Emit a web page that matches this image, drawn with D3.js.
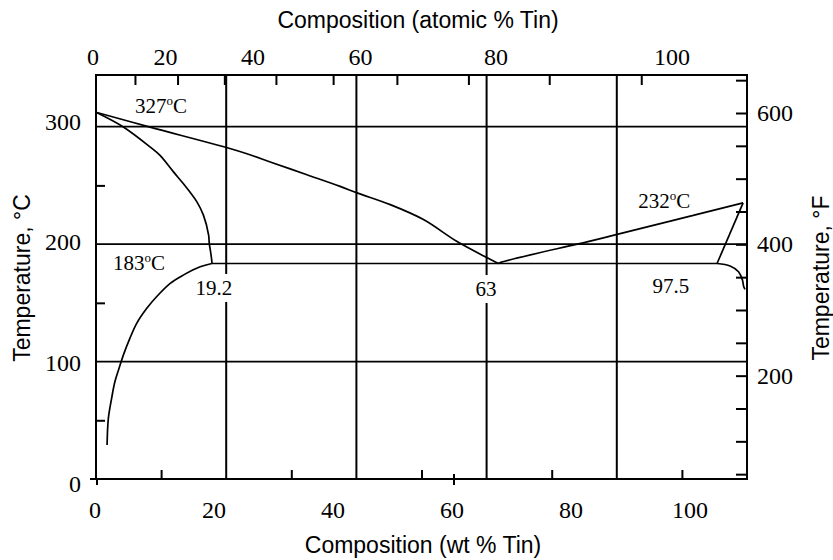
<!DOCTYPE html>
<html>
<head>
<meta charset="utf-8">
<script src="https://cdn.jsdelivr.net/npm/d3@7"></script>
<style>
body { margin: 0; background: #fff; }
</style>
</head>
<body>
<div id="container"></div>
<script>
// tick values
var wtLabels = [0, 20, 40, 60, 80, 100];
var wtGrid = [20, 40, 60, 80];
var wtMinor = [10, 30, 50, 70, 90];
var atLabels = [0, 20, 40, 60, 80, 100];
var atMinor = [10, 20, 30, 40, 50, 60, 70, 80, 90];
var tempLabels = [0, 100, 200, 300];
var tempGrid = [100, 200, 300];
var tempMinor = [50, 150, 250];
var fahrLabels = [200, 400, 600];
var fahrMinor = [50, 100, 150, 200, 250, 300, 350, 400, 450, 500, 550, 600, 650];

// phase boundaries as drawn, [wt % Sn, deg C]
var liquidusLead = [[0, 312.3], [8.3, 299.6], [22.1, 278.9], [27.2, 269.1], [32.4, 259.1], [37.5, 249.2],
    [40.1, 243.6], [45.2, 233.6], [50.3, 220.9], [55.4, 202.4], [59.8, 189.2], [61.8, 183.5]];
var liquidusTin = [[61.8, 183.5], [62.3, 184.7], [75.9, 202.6], [80.2, 208.5], [99.4, 235.1]];
var solidusLead = [[0, 312.3], [4.2, 299.8], [8.3, 282.8], [9.8, 275.7], [11.9, 261.5], [13.4, 251.6],
    [14.4, 244.5], [15.5, 236.0], [16.5, 224.7], [17.3, 207.7], [17.4, 200.6], [17.6, 193.5],
    [17.8, 185.0], [17.8, 183.5]];
var solvusLead = [[17.8, 183.5], [16.0, 180.7], [13.4, 173.6], [11.4, 166.6], [9.3, 155.2], [7.8, 145.3],
    [6.25, 132.5], [5.2, 119.7], [4.2, 105.5], [3.7, 97.0], [2.9, 82.8], [2.4, 68.7], [1.9, 51.7], [1.7, 28.9]];
var eutectic = [[17.8, 183.5], [95.4, 183.5]];
var solidusTin = [[99.4, 235.1], [95.4, 183.5]];
var solvusTin = [[95.4, 183.5], [97.4, 181.4], [98.7, 176.5], [99.3, 169.4], [99.5, 163.7], [99.7, 161.5]];

// annotations: text, superscript degree?, wt %, deg C, anchor
var notes = [
    {text: "327", deg: true, wt: 6.0, t: 311.6, anchor: "start"},
    {text: "183", deg: true, wt: 2.6, t: 178.0, anchor: "start"},
    {text: "232", deg: true, wt: 83.3, t: 230.8, anchor: "start"},
    {text: "19.2", deg: false, wt: 18.1, t: 156.7, anchor: "middle"},
    {text: "63", deg: false, wt: 59.9, t: 155.8, anchor: "middle"},
    {text: "97.5", deg: false, wt: 88.3, t: 158.4, anchor: "middle"}
];

var M_SN = 118.71, M_PB = 207.2;
function wtFromAt(a) {
    return 100 * a * M_SN / (a * M_SN + (100 - a) * M_PB);
}

var W = 833, H = 560;
var box = {left: 96, right: 747, top: 75, bottom: 479};
var SERIF = "'Liberation Serif', 'Times New Roman', serif";
var SANS = "'Liberation Sans', Arial, sans-serif";

var x = d3.scaleLinear().domain([0, 100]).range([box.left, box.right]);
var y = d3.scaleLinear().domain([0, 344]).range([box.bottom, box.top]);
// the printed tick labels do not sit on the grid, they have their own spacing
var xLab = d3.scaleLinear().domain([0, 100]).range([95, 690]);
var xTopLab = d3.scaleLinear().domain([0, 100]).range([93, 672]);
var yLab = d3.scaleLinear().domain([0, 300]).range([483.5, 121.5]);
var yF = d3.scaleLinear().domain([0, 600]).range([507, 113]);

var svg = d3.select("#container")
    .append("svg")
    .attr("width", W)
    .attr("height", H)
    .style("display", "block");

svg.append("rect").attr("width", W).attr("height", H).attr("fill", "#fff");

// grid
svg.selectAll("vgrid")
    .data(wtGrid)
    .enter()
    .append("line")
        .attr("x1", function(d) { return x(d); })
        .attr("x2", function(d) { return x(d); })
        .attr("y1", box.top)
        .attr("y2", box.bottom)
        .attr("stroke", "#000")
        .attr("stroke-width", 2);

svg.selectAll("hgrid")
    .data(tempGrid)
    .enter()
    .append("line")
        .attr("x1", box.left)
        .attr("x2", box.right)
        .attr("y1", function(d) { return y(d); })
        .attr("y2", function(d) { return y(d); })
        .attr("stroke", "#000")
        .attr("stroke-width", 1.8);

// inward minor ticks
function ticks(axis, tx, ty) {
    var g = svg.append("g")
        .attr("transform", "translate(" + tx + "," + ty + ")")
        .call(axis);
    g.select(".domain").remove();
    g.selectAll("text").remove();
    g.selectAll("line").attr("stroke", "#000").attr("stroke-width", 2);
}
ticks(d3.axisTop(x).tickValues(wtMinor).tickSize(9), 0, box.bottom);
ticks(d3.axisBottom(x).tickValues(atMinor.map(wtFromAt)).tickSize(10), 0, box.top);
ticks(d3.axisRight(y).tickValues(tempMinor).tickSize(9), box.left, 0);
ticks(d3.axisLeft(yF).tickValues(fahrMinor).tickSize(11), box.right, 0);

// frame
svg.append("rect")
    .attr("x", box.left)
    .attr("y", box.top)
    .attr("width", box.right - box.left)
    .attr("height", box.bottom - box.top)
    .attr("fill", "none")
    .attr("stroke", "#000")
    .attr("stroke-width", 2);
svg.append("line")
    .attr("x1", box.left - 6).attr("x2", box.left)
    .attr("y1", box.bottom).attr("y2", box.bottom)
    .attr("stroke", "#000").attr("stroke-width", 2);
svg.selectAll("btick")
    .data([0, 60])
    .enter()
    .append("line")
        .attr("x1", function(d) { return xLab(d) + 2; })
        .attr("x2", function(d) { return xLab(d) + 2; })
        .attr("y1", function(d) { return d ? box.bottom - 5 : box.bottom; })
        .attr("y2", box.bottom + 6)
        .attr("stroke", "#000").attr("stroke-width", 2);

// phase boundaries
var line = d3.line()
    .curve(d3.curveCatmullRom.alpha(0.5))
    .x(function(d) { return x(d[0]); })
    .y(function(d) { return y(d[1]); });
var curves = [liquidusLead, liquidusTin, solidusLead, solvusLead, eutectic, solidusTin, solvusTin];
svg.selectAll("curve")
    .data(curves)
    .enter()
    .append("path")
        .attr("d", line)
        .attr("fill", "none")
        .attr("stroke", "#000")
        .attr("stroke-width", 1.7)
        .attr("stroke-linejoin", "round");

// annotations with white backing
notes.forEach(function(n) {
    var g = svg.append("g");
    var t = g.append("text")
        .attr("x", x(n.wt))
        .attr("y", y(n.t))
        .attr("text-anchor", n.anchor)
        .attr("font-family", SERIF)
        .attr("font-size", "21px")
        .attr("fill", "#000");
    t.append("tspan").text(n.text);
    if (n.deg) {
        t.append("tspan").attr("font-size", "13px").attr("dy", "-8").text("o");
        t.append("tspan").attr("dy", "8").text("C");
    }
    var bb = t.node().getBBox();
    g.insert("rect", "text")
        .attr("x", bb.x - 2)
        .attr("y", bb.y - 2)
        .attr("width", bb.width + 4)
        .attr("height", bb.height + 4)
        .attr("fill", "#fff");
});

// tick labels
svg.selectAll("blab")
    .data(wtLabels)
    .enter()
    .append("text")
        .attr("x", function(d) { return xLab(d); })
        .attr("y", 518)
        .attr("text-anchor", "middle")
        .attr("font-family", SERIF)
        .attr("font-size", "24px")
        .text(function(d) { return d; });

svg.selectAll("tlab")
    .data(atLabels)
    .enter()
    .append("text")
        .attr("x", function(d) { return xTopLab(wtFromAt(d)); })
        .attr("y", 65)
        .attr("text-anchor", "middle")
        .attr("font-family", SERIF)
        .attr("font-size", "24px")
        .text(function(d) { return d; });

svg.selectAll("llab")
    .data(tempLabels)
    .enter()
    .append("text")
        .attr("x", 81)
        .attr("y", function(d) { return yLab(d); })
        .attr("dy", "0.34em")
        .attr("text-anchor", "end")
        .attr("font-family", SERIF)
        .attr("font-size", "24px")
        .text(function(d) { return d; });

svg.selectAll("rlab")
    .data(fahrLabels)
    .enter()
    .append("text")
        .attr("x", 757)
        .attr("y", function(d) { return yF(d); })
        .attr("dy", "0.34em")
        .attr("text-anchor", "start")
        .attr("font-family", SERIF)
        .attr("font-size", "24px")
        .text(function(d) { return d; });

// axis titles
svg.append("text")
    .attr("x", 418).attr("y", 28)
    .attr("text-anchor", "middle")
    .attr("font-family", SANS).attr("font-size", "23px")
    .text("Composition (atomic % Tin)");
svg.append("text")
    .attr("x", 423).attr("y", 553)
    .attr("text-anchor", "middle")
    .attr("font-family", SANS).attr("font-size", "23px")
    .text("Composition (wt % Tin)");
svg.append("text")
    .attr("transform", "translate(30,278) rotate(-90)")
    .attr("text-anchor", "middle")
    .attr("font-family", SANS).attr("font-size", "23px")
    .text("Temperature, \u00B0C");
svg.append("text")
    .attr("transform", "translate(829,278) rotate(-90)")
    .attr("text-anchor", "middle")
    .attr("font-family", SANS).attr("font-size", "23px")
    .text("Temperature, \u00B0F");
</script>
</body>
</html>
